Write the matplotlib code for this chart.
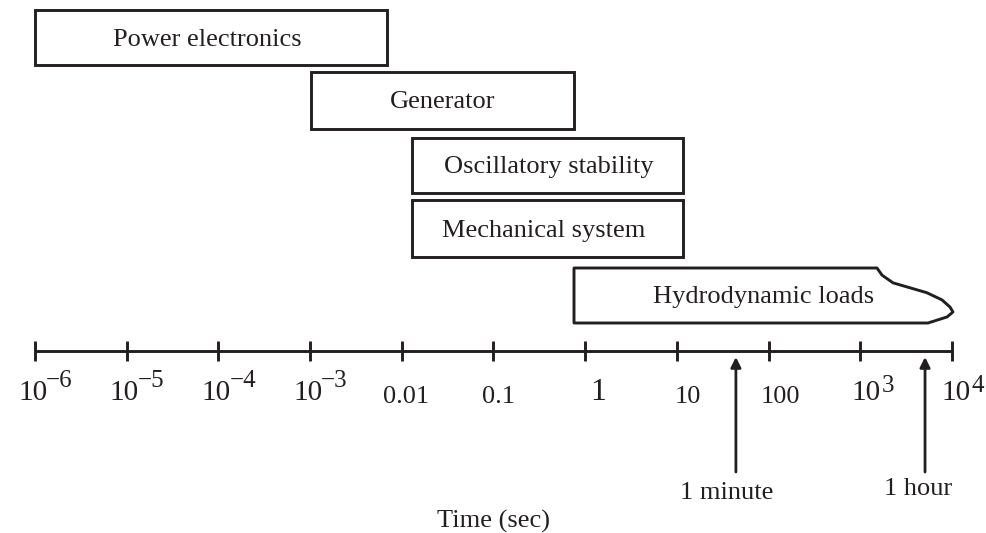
import matplotlib
matplotlib.use("Agg")
import matplotlib.pyplot as plt
import matplotlib.transforms as mtrans
import numpy as np

plt.rcParams['font.family'] = ['Liberation Serif', 'DejaVu Serif']

# ---------------- data ----------------
tick_values = [1e-6, 1e-5, 1e-4, 1e-3, 1e-2, 1e-1, 1, 10, 100, 1e3, 1e4]
tick_base = ['10', '10', '10', '10', '0.01', '0.1', '1', '10', '100', '10', '10']
tick_exp = ['\u22126', '\u22125', '\u22124', '\u22123', '', '', '', '', '', '3', '4']

box_names = ['Power electronics', 'Generator', 'Oscillatory stability',
             'Mechanical system']
box_start = [1.0e-6, 1.02e-3, 0.0129, 0.0129]
box_end = [0.0069, 0.755, 11.7, 11.7]

hydro_name = 'Hydrodynamic loads'
hydro_start = 0.755
# jagged right edge (time values, fraction of box height from top)
hydro_edge_t = [1520, 1726, 2275, 3485, 5330, 7780, 9510, 10250, 8830, 5470]
hydro_edge_f = [0.0, 0.13, 0.27, 0.36, 0.45, 0.58, 0.71, 0.80, 0.89, 1.0]

marker_names = ['1 minute', '1 hour']
marker_t = [44, 5080]

axis_title = 'Time (sec)'

# ---------------- layout ----------------
W, H = 987, 533
fig = plt.figure(figsize=(W / 100, H / 100), dpi=100)
ax = fig.add_axes([0, 0, 1, 1])
ax.set_xscale('log')
px_per_dec = 91.7
x0px = 35
ax.set_xlim(10 ** (-6 - x0px / px_per_dec), 10 ** (-6 + (W - x0px) / px_per_dec))
ax.set_ylim(H, 0)
ax.axis('off')

ink = '#231f20'
lw = 2.1


def off(dx):
    return mtrans.offset_copy(ax.transData, fig, x=dx, y=0, units='dots')


box_rows = [(10, 65), (72, 129), (138, 193), (200, 257)]
box_text_dx = [-4, 0, 1, -4]
for name, s, e, (yt, yb), dx in zip(box_names, box_start, box_end, box_rows, box_text_dx):
    ax.fill([s, e, e, s, s], [yt, yt, yb, yb, yt], facecolor='white',
            edgecolor=ink, lw=lw, joinstyle='miter')
    xc = np.sqrt(s * e)
    ax.text(xc, (yt + yb) / 2 + 2, name, ha='center', va='center',
            fontsize=19, color=ink, transform=off(dx))

# hydrodynamic loads box
hy_t, hy_b = 268, 323
xs = [hydro_start] + hydro_edge_t + [hydro_start]
ys = [hy_t] + [hy_t + f * (hy_b - hy_t) for f in hydro_edge_f] + [hy_b]
ax.fill(xs, ys, facecolor='white', edgecolor=ink, lw=lw, joinstyle='round')
ax.text(10 ** (-6 + (764 - x0px) / px_per_dec), (hy_t + hy_b) / 2 + 2, hydro_name,
        ha='center', va='center', fontsize=19, color=ink)

# time axis
axis_y = 351
ax.plot([tick_values[0], tick_values[-1]], [axis_y, axis_y], color=ink, lw=lw,
        solid_capstyle='butt')
ax.vlines(tick_values, axis_y - 10, axis_y + 10, color=ink, lw=lw)

label_dx = [-17, -17, -17, -17, -19, -11, 5, -2, -8, -9, -11]
label_base = [400, 400, 400, 400, 403, 403, 400, 403, 403, 400, 400]
label_size = [21, 21, 21, 21, 19, 19, 23, 19, 19, 21, 21]
exp_base = [387, 387, 387, 387, 0, 0, 0, 0, 0, 392, 392]
exp_dx = [28, 28, 28, 28, 0, 0, 0, 0, 0, 30, 30]
for v, b, ex, dx, yb, fs, eb, edx in zip(tick_values, tick_base, tick_exp, label_dx,
                                          label_base, label_size, exp_base, exp_dx):
    ax.text(v, yb, b, ha='left', va='baseline', fontsize=fs, color=ink,
            transform=off(dx))
    if ex:
        ax.text(v, eb, ex, ha='left', va='baseline', fontsize=18, color=ink,
                transform=off(dx + edx))

# markers
marker_text_dx = [-9, -7]
marker_text_y = [493, 489]
for name, t, dx, ty in zip(marker_names, marker_t, marker_text_dx, marker_text_y):
    ax.annotate('', xy=(t, 357), xytext=(t, 472),
                arrowprops=dict(arrowstyle='-|>', lw=2.0, color=ink,
                                mutation_scale=15, shrinkA=0, shrinkB=0))
    ax.text(t, ty, name, ha='center', va='center', fontsize=19, color=ink,
            transform=off(dx))

ax.text(10 ** (-6 + (494 - x0px) / px_per_dec), 521, axis_title, ha='center',
        va='center', fontsize=19, color=ink)

fig.savefig('out.png', dpi=100)
